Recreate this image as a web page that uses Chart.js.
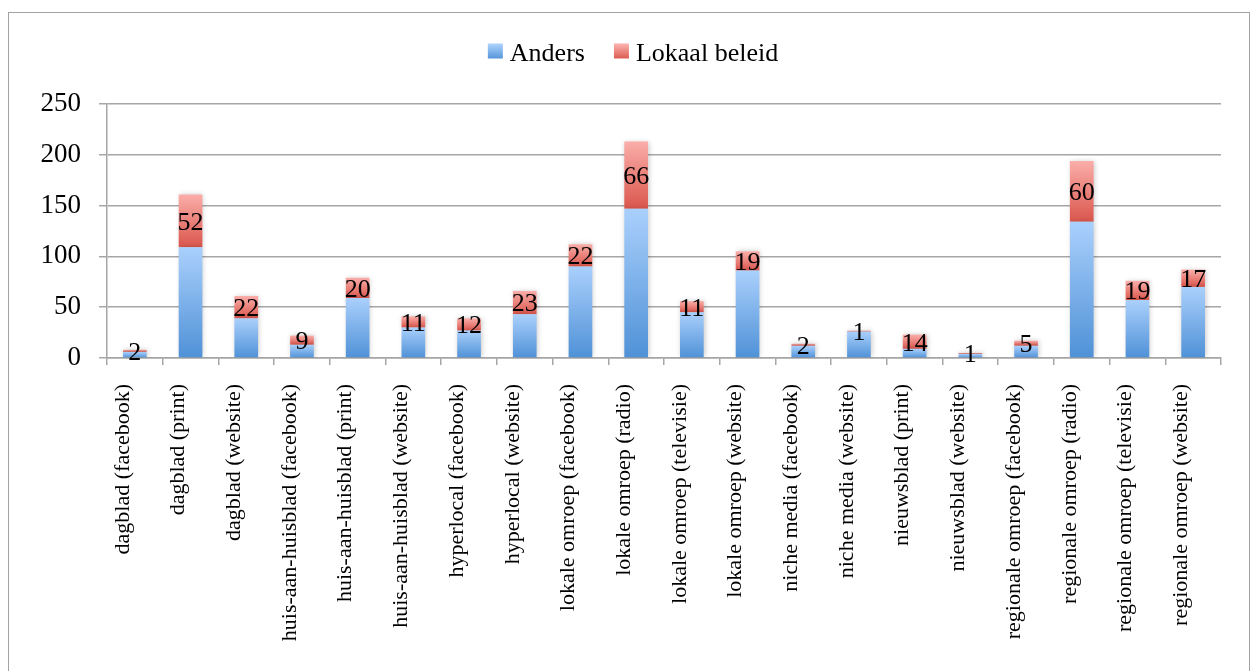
<!DOCTYPE html>
<html>
<head>
<meta charset="utf-8">
<script src="https://cdn.jsdelivr.net/npm/chart.js@4.4.1/dist/chart.umd.min.js"></script>
<style>
  html, body { margin: 0; padding: 0; background: #fff; overflow: hidden; }
  #wrap { position: relative; width: 1250px; height: 671px; }
  #frame { position: absolute; left: 8px; top: 12px; width: 1242px; height: 700px;
           border: 1px solid #a3a3a3; box-sizing: border-box; }
  canvas { position: absolute; left: 0; top: 0; }
</style>
</head>
<body>
<div id="wrap">
  <div id="frame"></div>
  <canvas id="chart" width="1250" height="671"></canvas>
</div>
<script>
// Data
const categories = [
  'dagblad (facebook)', 'dagblad (print)', 'dagblad (website)',
  'huis-aan-huisblad (facebook)', 'huis-aan-huisblad (print)', 'huis-aan-huisblad (website)',
  'hyperlocal (facebook)', 'hyperlocal (website)',
  'lokale omroep (facebook)', 'lokale omroep (radio)', 'lokale omroep (televisie)', 'lokale omroep (website)',
  'niche media (facebook)', 'niche media (website)',
  'nieuwsblad (print)', 'nieuwsblad (website)',
  'regionale omroep (facebook)', 'regionale omroep (radio)', 'regionale omroep (televisie)', 'regionale omroep (website)'
];
const anders = [6, 109, 39, 13, 59, 30, 27, 43, 90, 147, 45, 86, 12, 26, 9, 4, 12, 134, 57, 70];
const lokaalBeleid = [2, 52, 22, 9, 20, 11, 12, 23, 22, 66, 11, 19, 2, 1, 14, 1, 5, 60, 19, 17];
const yTicks = [0, 50, 100, 150, 200, 250];

const FONT = 'Liberation Serif';
const BLUE = ['#aad0fc', '#4f91d7'];
const RED = ['#fbaeaa', '#da564c'];

// vertical gradient per segment, from the y scale
function segmentFill(colors, bases) {
  return (c) => {
    const chart = c.chart;
    if (c.type !== 'data' || !chart.chartArea) return colors[1];
    const y = chart.scales.y;
    const base = bases ? bases[c.dataIndex] : 0;
    const top = y.getPixelForValue(base + c.raw);
    const bottom = y.getPixelForValue(base);
    const g = chart.ctx.createLinearGradient(0, top, 0, bottom);
    g.addColorStop(0, colors[0]);
    g.addColorStop(1, colors[1]);
    return g;
  };
}

// soft shadow behind bars
const barShadow = {
  id: 'barShadow',
  beforeDatasetsDraw(chart) {
    const ctx = chart.ctx;
    ctx.save();
    ctx.shadowColor = 'rgba(0,0,0,0.22)';
    ctx.shadowBlur = 5;
    ctx.shadowOffsetX = 1;
  },
  afterDatasetsDraw(chart) {
    chart.ctx.restore();
  }
};

// value labels in the Lokaal beleid segment
const segmentLabels = {
  id: 'segmentLabels',
  afterDatasetsDraw(chart) {
    const ctx = chart.ctx;
    const meta = chart.getDatasetMeta(1);
    ctx.save();
    ctx.font = '26px "' + FONT + '"';
    ctx.fillStyle = '#000';
    ctx.textAlign = 'center';
    ctx.textBaseline = 'middle';
    meta.data.forEach((el, i) => {
      const { x, y, base } = el.getProps(['x', 'y', 'base'], true);
      ctx.fillText(String(lokaalBeleid[i]), x, (y + base) / 2 + 2);
    });
    ctx.restore();
  }
};

// legend drawn at the top, centred
const topLegend = {
  id: 'topLegend',
  afterDraw(chart) {
    const ctx = chart.ctx;
    const items = chart.data.datasets.map((d, i) => ({ label: d.label, colors: i === 0 ? BLUE : RED }));
    ctx.save();
    ctx.font = '26px "' + FONT + '"';
    const box = 15, gap = 7, spacing = 29;
    const widths = items.map(it => box + gap + ctx.measureText(it.label).width);
    const total = widths.reduce((a, b) => a + b, 0) + spacing * (items.length - 1);
    let x = 633 - total / 2;
    const cy = 52;
    items.forEach((it, i) => {
      const g = ctx.createLinearGradient(0, cy - box / 2, 0, cy + box / 2);
      g.addColorStop(0, it.colors[0]);
      g.addColorStop(1, it.colors[1]);
      ctx.fillStyle = g;
      ctx.fillRect(x, cy - box / 2 - 1, box, box);
      ctx.fillStyle = '#000';
      ctx.textAlign = 'left';
      ctx.textBaseline = 'middle';
      ctx.fillText(it.label, x + box + gap, cy + 2);
      x += widths[i] + spacing;
    });
    ctx.restore();
  }
};

const gridColor = '#a6a6a6';

new Chart(document.getElementById('chart'), {
  type: 'bar',
  data: {
    labels: categories,
    datasets: [
      {
        label: 'Anders',
        data: anders,
        backgroundColor: segmentFill(BLUE, null),
        barPercentage: 0.425,
        categoryPercentage: 1
      },
      {
        label: 'Lokaal beleid',
        data: lokaalBeleid,
        backgroundColor: segmentFill(RED, anders),
        barPercentage: 0.425,
        categoryPercentage: 1
      }
    ]
  },
  options: {
    responsive: false,
    animation: false,
    layout: { padding: { top: 104, right: 29, left: 0, bottom: 0 } },
    plugins: {
      legend: { display: false },
      tooltip: { enabled: false }
    },
    scales: {
      x: {
        stacked: true,
        afterFit: (s) => { s.height = 313; },
        grid: { display: true, drawOnChartArea: false, offset: true, tickLength: 7, color: gridColor, lineWidth: 1.5 },
        border: { color: gridColor, width: 1.5 },
        ticks: {
          autoSkip: false, minRotation: 90, maxRotation: 90,
          padding: 19, labelOffset: -12,
          color: '#000', font: { family: FONT, size: 22 }
        }
      },
      y: {
        stacked: true,
        min: 0,
        max: 250,
        afterFit: (s) => { s.width = 107; },
        afterBuildTicks: (s) => { s.ticks = yTicks.map(v => ({ value: v })); },
        grid: { color: gridColor, lineWidth: 1.5, tickLength: 8 },
        border: { color: gridColor, width: 1.5 },
        ticks: { padding: 18, color: '#000', font: { family: FONT, size: 27 } }
      }
    }
  },
  plugins: [barShadow, segmentLabels, topLegend]
});
</script>
</body>
</html>
